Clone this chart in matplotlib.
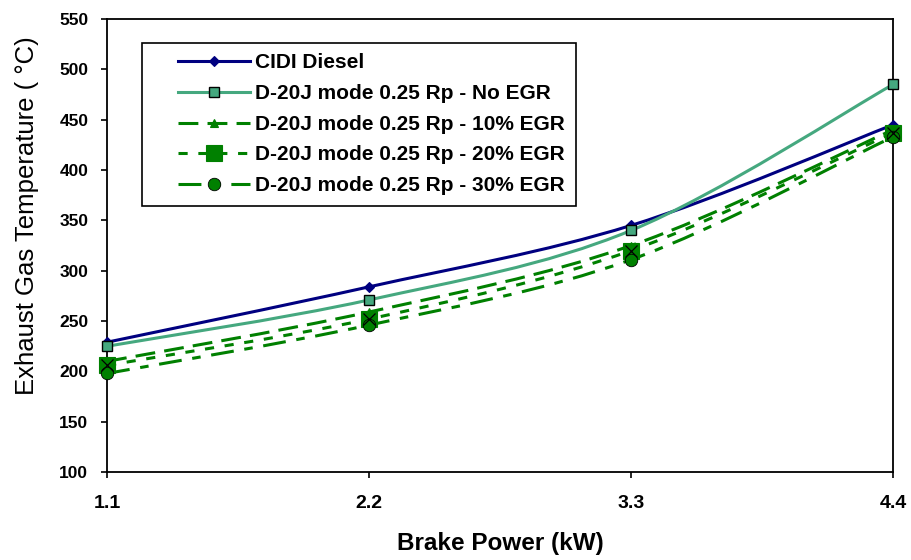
"""
Exhaust gas temperature vs brake power, smoothed Excel-style lines.
"""

import matplotlib

matplotlib.use("Agg")
import matplotlib.pyplot as plt
import numpy as np
from matplotlib.legend_handler import HandlerLine2D
from matplotlib.lines import Line2D
from matplotlib.patches import PathPatch
from matplotlib.path import Path

plt.rcParams["font.family"] = ["Liberation Sans", "DejaVu Sans"]

# data
power_labels = ["1.1", "2.2", "3.3", "4.4"]
cidi = [229, 284, 345, 445]
no_egr = [225, 271, 340, 485]
egr10 = [210, 259, 325, 440]
egr20 = [206, 252, 320, 437]
egr30 = [198, 246, 311, 433]

series_names = [
    "CIDI Diesel",
    "D-20J mode 0.25 Rp - No EGR",
    "D-20J mode 0.25 Rp - 10% EGR",
    "D-20J mode 0.25 Rp - 20% EGR",
    "D-20J mode 0.25 Rp - 30% EGR",
]

NAVY = "#000080"
SEA = "#45A87F"
GREEN = "#008000"
LW = 2.2


def smooth_path(x, y):
    # Excel-like smoothing: cubic bezier with catmull-rom control points
    pts = np.column_stack([x, y]).astype(float)
    n = len(pts)
    verts = [pts[0]]
    codes = [Path.MOVETO]
    for i in range(n - 1):
        p0 = pts[i - 1] if i > 0 else pts[i]
        p1 = pts[i]
        p2 = pts[i + 1]
        p3 = pts[i + 2] if i + 2 < n else pts[i + 1]
        c1 = p1 + (p2 - p0) / 6.0
        c2 = p2 - (p3 - p1) / 6.0
        verts += [c1, c2, p2]
        codes += [Path.CURVE4] * 3
    return Path(verts, codes)


styles = [
    dict(color=NAVY, ls="-", marker="D", ms=5, mfc=NAVY, mec=NAVY, mew=0.8),
    dict(color=SEA, ls="-", marker="s", ms=7, mfc=SEA, mec="black", mew=1.0),
    dict(color=GREEN, ls=(0, (6.5, 3)), marker="^", ms=6, mfc=GREEN, mec=GREEN, mew=0.8),
    dict(color=GREEN, ls=(0, (3, 3.5)), marker="s", ms=12, mfc=GREEN, mec=GREEN, mew=0.8),
    dict(color=GREEN, ls=(0, (7.5, 3.5, 2.8, 3.5)), marker="o", ms=9, mfc=GREEN, mec="black", mew=0.6),
]
series = [cidi, no_egr, egr10, egr20, egr30]

fig = plt.figure(figsize=(9.11, 5.60), dpi=100)
ax = fig.add_axes([0.1175, 0.157, 0.8628, 0.809])

xpos = np.arange(len(power_labels))
handles = []
for vals, st, name in zip(series, styles, series_names):
    patch = PathPatch(smooth_path(xpos, vals), fill=False, edgecolor=st["color"],
                      linestyle=st["ls"], linewidth=LW, zorder=2)
    ax.add_patch(patch)
    ax.plot(xpos, vals, linestyle="none", marker=st["marker"], markersize=st["ms"],
            markerfacecolor=st["mfc"], markeredgecolor=st["mec"],
            markeredgewidth=st["mew"], zorder=3, clip_on=False)
    if name.endswith("20% EGR"):
        ax.plot(xpos, vals, linestyle="none", marker="x", markersize=8,
                markeredgecolor="black", markeredgewidth=0.9, zorder=4, clip_on=False)
    handles.append(Line2D([], [], color=st["color"], linestyle=st["ls"], linewidth=LW,
                          marker=st["marker"], markersize=st["ms"],
                          markerfacecolor=st["mfc"], markeredgecolor=st["mec"],
                          markeredgewidth=st["mew"]))

ax.set_xlim(0, 3)
ax.set_ylim(100, 550)
ax.set_xticks(xpos)
ax.set_xticklabels(power_labels)
ax.set_yticks(np.arange(100, 551, 50))
ax.tick_params(axis="x", direction="out", length=4.5, width=1.2, labelsize=14, pad=12)
ax.tick_params(axis="y", direction="out", length=4.5, width=1.2, labelsize=12.5, pad=9)
for lab in ax.get_xticklabels() + ax.get_yticklabels():
    lab.set_fontweight("bold")
for sp in ax.spines.values():
    sp.set_linewidth(1.3)

ax.set_xlabel("Brake Power (kW)", fontsize=17.5, fontweight="bold")
ax.xaxis.set_label_coords(0.5, -0.132)
ax.set_ylabel("Exhaust Gas Temperature ( °C)", fontsize=18.5)
ax.yaxis.set_label_coords(-0.086, 0.567)

leg = ax.legend(handles, series_names, loc="upper left", bbox_to_anchor=(0.0445, 0.947),
                borderaxespad=0, frameon=True, fancybox=False, edgecolor="black",
                framealpha=1, prop={"weight": "bold", "size": 15}, handlelength=4.7,
                handletextpad=0.24, labelspacing=0.56, borderpad=0.5,
                handler_map={Line2D: HandlerLine2D(xpad=1.23)})
leg.get_frame().set_linewidth(1.2)

fig.savefig("out.png", dpi=100)
